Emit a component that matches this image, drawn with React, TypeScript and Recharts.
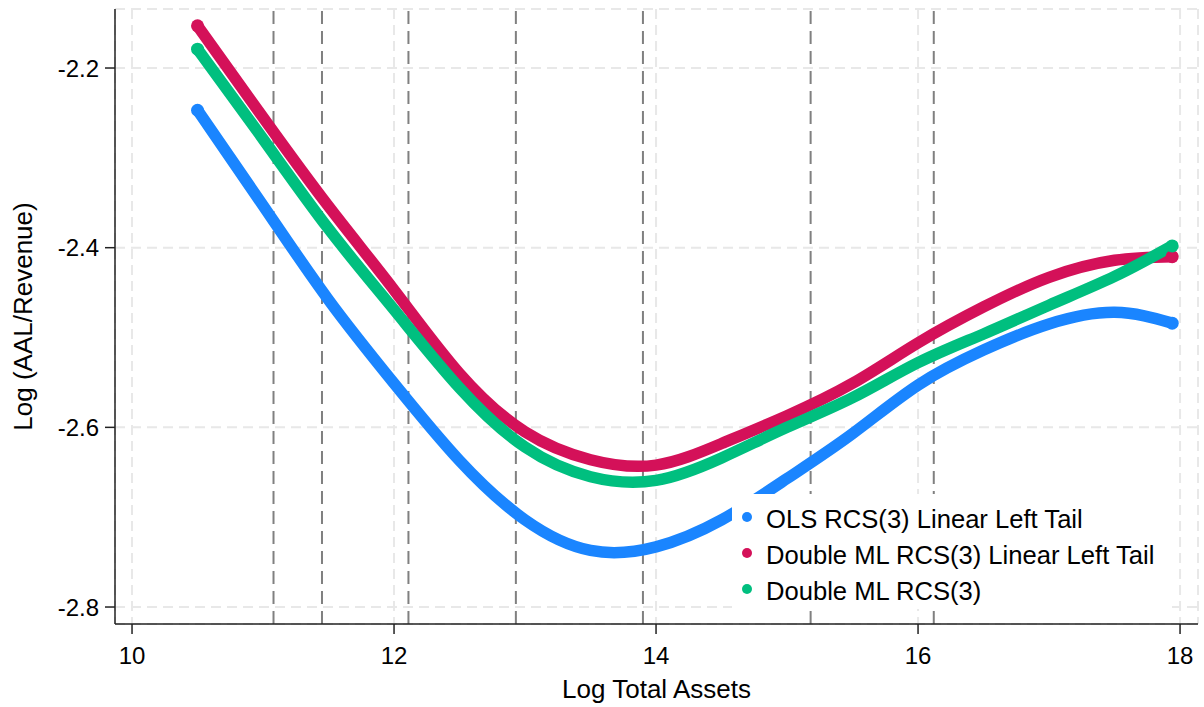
import React from 'react'
import {
  CartesianGrid,
  Legend,
  Line,
  LineChart,
  ReferenceLine,
  XAxis,
  YAxis,
} from 'recharts'

// log total assets where each fitted value is drawn
const logAssets = [10.5, 11, 11.5, 12, 12.5, 13, 13.5, 14, 14.5, 15, 15.5, 16, 16.5, 17, 17.5, 17.94]

const olsLinearTail = [-2.247, -2.353, -2.458, -2.551, -2.637, -2.703, -2.737, -2.733, -2.703, -2.657, -2.607, -2.553, -2.514, -2.485, -2.472, -2.484]
const dmlLinearTail = [-2.153, -2.255, -2.354, -2.447, -2.54, -2.605, -2.636, -2.642, -2.618, -2.587, -2.551, -2.506, -2.466, -2.433, -2.414, -2.41]
const dmlPlain = [-2.179, -2.279, -2.379, -2.469, -2.556, -2.622, -2.655, -2.659, -2.634, -2.6, -2.567, -2.528, -2.496, -2.464, -2.432, -2.398]

// spline knots (dashed vertical lines)
const knots = [11.08, 11.45, 12.11, 12.93, 13.9, 15.18, 16.12]

const xTicks = [10, 12, 14, 16, 18]
const yTicks = [-2.8, -2.6, -2.4, -2.2]

const seriesInfo = [
  { key: 'ols', name: 'OLS RCS(3) Linear Left Tail', color: '#1a85ff' },
  { key: 'dmlLlt', name: 'Double ML RCS(3) Linear Left Tail', color: '#d41159' },
  { key: 'dml', name: 'Double ML RCS(3)', color: '#00bf7f' },
]

const chartData = logAssets.map((x, i) => ({
  x,
  ols: olsLinearTail[i],
  dmlLlt: dmlLinearTail[i],
  dml: dmlPlain[i],
}))

const font = '"Liberation Sans", Arial, sans-serif'

// only the first and last marker stand out a little from the band
const EndDot = (props: any) => {
  const { cx, cy, index, stroke } = props
  if (index !== 0 && index !== logAssets.length - 1) return <g key={index} />
  return <circle key={index} cx={cx} cy={cy} r={6.5} fill={stroke} />
}

const LegendBox = () => (
  <div style={{ background: '#fff', paddingTop: 7, fontFamily: font }}>
    {seriesInfo.map(s => (
      <div key={s.key} style={{ display: 'flex', alignItems: 'center', height: 36, lineHeight: '36px' }}>
        <span
          style={{
            width: 10,
            height: 10,
            borderRadius: 5,
            background: s.color,
            marginLeft: 10,
            marginRight: 14,
            marginTop: -4,
          }}
        />
        <span style={{ fontSize: 25.6, color: '#000', whiteSpace: 'nowrap' }}>{s.name}</span>
      </div>
    ))}
  </div>
)

export default function App() {
  return (
    <div style={{ position: 'absolute', left: 0, top: 0, background: '#fff' }}>
      <LineChart width={1204} height={707} data={chartData} margin={{ top: 9, right: 6, bottom: 0, left: 0 }}>
        <CartesianGrid stroke="#e8e8e8" strokeWidth={2} strokeDasharray="10 6" />
        <XAxis
          type="number"
          dataKey="x"
          domain={[9.87, 18.137]}
          ticks={xTicks}
          allowDataOverflow
          height={83}
          tickSize={10}
          tickMargin={13}
          axisLine={{ stroke: '#222', strokeWidth: 1.5 }}
          tickLine={{ stroke: '#222', strokeWidth: 1.5 }}
          tick={{ fill: '#000', fontSize: 24, fontFamily: font }}
          label={{ value: 'Log Total Assets', position: 'insideBottom', offset: 9, fill: '#000', fontSize: 26, fontFamily: font }}
        />
        <YAxis
          type="number"
          domain={[-2.8189, -2.1343]}
          ticks={yTicks}
          allowDataOverflow
          width={115}
          tickSize={10}
          tickMargin={6}
          tickFormatter={(v: number) => v.toFixed(1)}
          axisLine={{ stroke: '#222', strokeWidth: 1.5 }}
          tickLine={{ stroke: '#222', strokeWidth: 1.5 }}
          tick={{ fill: '#000', fontSize: 24, fontFamily: font }}
          label={{
            content: () => (
              <text
                transform="translate(31.7, 316.5) rotate(-90)"
                textAnchor="middle"
                fill="#000"
                fontSize={26}
                fontFamily={font}
              >
                Log (AAL/Revenue)
              </text>
            ),
          }}
        />
        {knots.map(k => (
          <ReferenceLine key={k} x={k} stroke="#808080" strokeWidth={2} strokeDasharray="13 7" />
        ))}
        {seriesInfo.map(s => (
          <Line
            key={s.key}
            type="natural"
            dataKey={s.key}
            name={s.name}
            stroke={s.color}
            strokeWidth={11.5}
            strokeLinecap="round"
            strokeLinejoin="round"
            dot={EndDot}
            activeDot={false}
            isAnimationActive={false}
          />
        ))}
        <Legend
          layout="vertical"
          align="center"
          verticalAlign="middle"
          wrapperStyle={{ left: 732, top: 494, width: 440, height: 120 }}
          content={() => <LegendBox />}
        />
      </LineChart>
    </div>
  )
}
